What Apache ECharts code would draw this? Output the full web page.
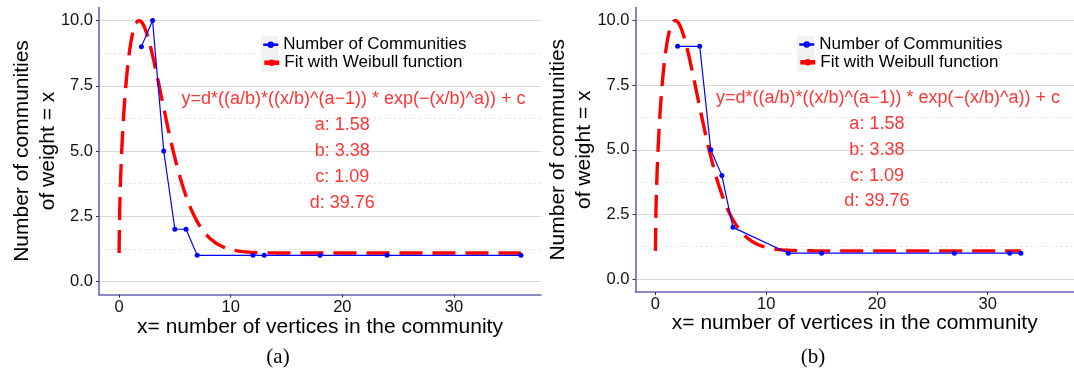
<!DOCTYPE html>
<html>
<head>
<meta charset="utf-8">
<script src="https://cdn.jsdelivr.net/npm/echarts@6/dist/echarts.min.js"></script>
<style>
  html, body { margin: 0; padding: 0; background: #fff; }
  #chart { width: 1074px; height: 368px; }
</style>
</head>
<body>
<div id="chart"></div>
<script>
// Panel (a): community size x and number of communities of that size
const sizesA = [2, 3, 4, 5, 6, 7, 12, 13, 18, 24, 36];
const countsA = [9, 10, 5, 2, 2, 1, 1, 1, 1, 1, 1];
// Panel (b)
const sizesB = [2, 4, 5, 6, 7, 12, 15, 27, 32, 33];
const countsB = [9, 9, 5, 4, 2, 1, 1, 1, 1, 1];

// Fitted Weibull parameters (shown in the annotation)
const fitA = 1.58, fitB = 3.38, fitC = 1.09, fitD = 39.76;

// Axis ticks
const xTicks = [0, 10, 20, 30];
const yTicks = [0, 2.5, 5, 7.5, 10];
const yMinorTicks = [1.25, 3.75, 6.25, 8.75];

// Texts
const seriesNames = ['Number of Communities', 'Fit with Weibull function'];
const panelCaptions = ['(a)', '(b)'];
const xTitle = 'x= number of vertices in the community';
const yTitle = 'Number of communities\nof weight = x';
const formulaText = 'y=d*((a/b)*((x/b)^(a\u22121)) * exp(\u2212(x/b)^a)) + c';

const SANS = '"Liberation Sans", Arial, Helvetica, sans-serif';
const SERIF = '"Liberation Serif", "Times New Roman", serif';
const AXIS_COLOR = '#6464b8';

function weibull(x) {
  return fitD * ((fitA / fitB) * Math.pow(x / fitB, fitA - 1) * Math.exp(-Math.pow(x / fitB, fitA))) + fitC;
}

// Fitted curve evaluated along the observed size range
function fitCurve(sizes) {
  const xmax = Math.max.apply(null, sizes);
  const pts = [];
  for (let i = 0; i <= Math.round(xmax * 20); i++) {
    const x = i / 20;
    pts.push([x, weibull(x)]);
  }
  return pts;
}

const annotations = [
  [21, 7, formulaText],
  [20, 6, 'a: ' + fitA.toFixed(2)],
  [20, 5, 'b: ' + fitB.toFixed(2)],
  [20, 4, 'c: ' + fitC.toFixed(2)],
  [20, 3, 'd: ' + fitD.toFixed(2)]
];

const panels = [
  { sizes: sizesA, counts: countsA, grid: { left: 99, top: 7.5, width: 442, height: 287 },
    legendLeft: 262, legendTop: [35.7, 53.7], box: [258, 31, 214, 46], caption: [278, 357],
    yNameGap: 38, xNameGap: 22 },
  { sizes: sizesB, counts: countsB, grid: { left: 635.5, top: 7.5, width: 438.5, height: 284.5 },
    legendLeft: 798, legendTop: [35.5, 53.3], box: [793, 31, 212, 46], caption: [813, 357],
    yNameGap: 38.5, xNameGap: 21 }
];

const grids = [], xAxes = [], yAxes = [], series = [], legends = [], graphics = [];

panels.forEach((p, i) => {
  grids.push(Object.assign({ containLabel: false, outerBoundsMode: 'none' }, p.grid));

  xAxes.push({
    type: 'value', gridIndex: i, min: -1.8, max: 37.8,
    axisLine: { show: true, onZero: false, lineStyle: { color: AXIS_COLOR, width: 1.6 } },
    axisTick: { show: true, length: 3, customValues: xTicks, lineStyle: { color: '#333', width: 1 } },
    axisLabel: { customValues: xTicks, margin: 4, fontSize: 16.5, color: '#111', fontFamily: SANS },
    splitLine: { show: false },
    name: xTitle, nameLocation: 'middle', nameGap: p.xNameGap, nameMoveOverlap: false,
    nameTextStyle: { fontSize: 21, lineHeight: 21, color: '#000', fontFamily: SANS }
  });

  // major y axis
  yAxes.push({
    type: 'value', gridIndex: i, min: -0.5, max: 10.5,
    axisLine: { show: true, onZero: false, lineStyle: { color: AXIS_COLOR, width: 1.6 } },
    axisTick: { show: true, length: 3, customValues: yTicks, lineStyle: { color: '#333', width: 1 } },
    axisLabel: { customValues: yTicks, margin: 6, fontSize: 16.5, color: '#111', fontFamily: SANS,
                 formatter: v => v.toFixed(1) },
    splitLine: { show: true, lineStyle: { color: '#d9d9d9', width: 1.2 } },
    name: yTitle, nameLocation: 'middle', nameRotate: 90, nameGap: p.yNameGap, nameMoveOverlap: false,
    nameTextStyle: { fontSize: 21, lineHeight: 26, color: '#000', fontFamily: SANS, align: 'center' }
  });
  // minor grid lines
  yAxes.push({
    type: 'value', gridIndex: i, min: -0.5, max: 10.5, position: 'left',
    axisLine: { show: false },
    axisTick: { show: false, customValues: yMinorTicks },
    axisLabel: { show: false, customValues: yMinorTicks },
    splitLine: { show: true, lineStyle: { color: '#e2e2e2', width: 1, type: [2, 3] } }
  });

  series.push({
    name: seriesNames[1], type: 'line', xAxisIndex: i, yAxisIndex: 2 * i,
    data: fitCurve(p.sizes), symbol: 'circle', symbolSize: 6, showSymbol: false,
    lineStyle: { color: '#ff0000', width: 3.4, type: [23, 10], cap: 'butt' },
    itemStyle: { color: '#ff0000' }, z: 2, silent: true
  });
  series.push({
    name: seriesNames[0], type: 'line', xAxisIndex: i, yAxisIndex: 2 * i,
    data: p.sizes.map((x, k) => [x, p.counts[k]]),
    symbol: 'circle', symbolSize: 5,
    lineStyle: { color: '#0000ff', width: 1.2 },
    itemStyle: { color: '#0000ff' }, z: 3, silent: true
  });
  series.push({
    type: 'scatter', xAxisIndex: i, yAxisIndex: 2 * i,
    data: annotations, symbolSize: 1, itemStyle: { color: 'rgba(0,0,0,0)' },
    label: { show: true, position: 'inside', formatter: q => q.data[2],
             color: '#ff0000', fontSize: 18, fontFamily: SANS },
    z: 4, silent: true
  });

  seriesNames.forEach((nm, k) => {
    legends.push({
      data: [{ name: nm,
               lineStyle: k === 0 ? { width: 2.5 } : { width: 4.5, type: 'solid' } }],
      left: p.legendLeft, top: p.legendTop[k], padding: 0, itemGap: 0,
      itemWidth: 15, itemHeight: 8, selectedMode: false, z: 10,
      textStyle: { fontSize: 17, lineHeight: 18, color: '#000', fontFamily: SANS }
    });
  });

  graphics.push({ type: 'rect', z: 5, silent: true,
    shape: { x: p.box[0], y: p.box[1], width: p.box[2], height: p.box[3] },
    style: { fill: '#ffffff' } });
  graphics.push({ type: 'rect', z: 6, silent: true,
    shape: { x: p.legendLeft - 1, y: 35.7, width: 17, height: 36 },
    style: { fill: '#f2f2f2' } });
  graphics.push({ type: 'text', z: 6, silent: true, x: p.caption[0], y: p.caption[1],
    style: { text: panelCaptions[i], font: '21px ' + SERIF, fill: '#000',
             align: 'center', verticalAlign: 'middle',
             textAlign: 'center', textVerticalAlign: 'middle' } });
});

const chart = echarts.init(document.getElementById('chart'), null, { renderer: 'canvas' });
chart.setOption({
  animation: false,
  backgroundColor: '#ffffff',
  grid: grids,
  xAxis: xAxes,
  yAxis: yAxes,
  legend: legends,
  series: series,
  graphic: graphics
});
</script>
</body>
</html>
